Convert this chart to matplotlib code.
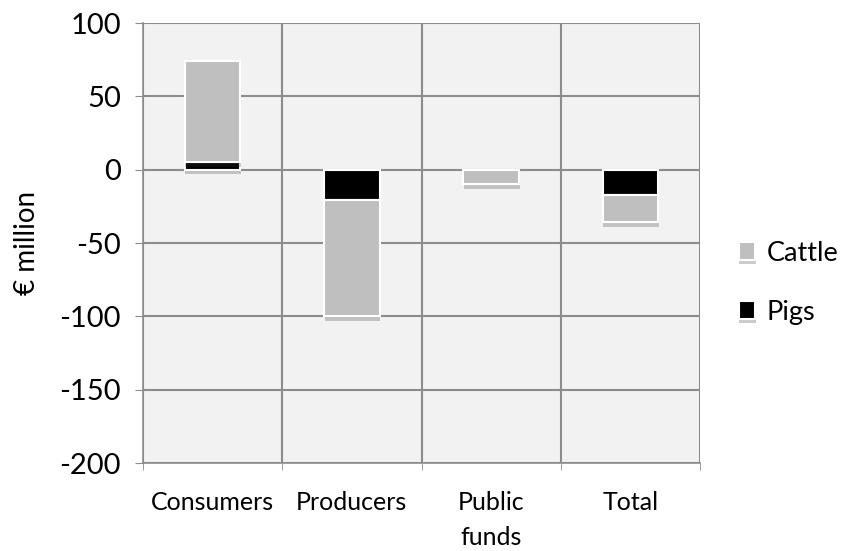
import numpy as np
import matplotlib
matplotlib.use("Agg")
import matplotlib.pyplot as plt
import matplotlib.patheffects as pe

# values (EUR million)
categories = ["Consumers", "Producers", "Public\nfunds", "Total"]
pigs = [5, -21, 0, -17.5]
cattle = [69, -79, -10, -18.5]

plt.rcParams["font.family"] = ["Lato", "DejaVu Sans"]
plt.rcParams["axes.unicode_minus"] = False

fig = plt.figure(figsize=(8.56, 5.51), dpi=100)
ax = fig.add_axes([143 / 856, 1 - 463 / 551, 557 / 856, 440 / 551])
ax.set_facecolor("#f2f2f2")

x = np.arange(len(categories))
shadow = [pe.SimplePatchShadow(offset=(0.5, -3), alpha=0.25, shadow_rgbFace="#333333"), pe.Normal()]
b_pigs = ax.bar(x, pigs, width=0.4, color="#000000", edgecolor="white", linewidth=1.5,
                label="Pigs", zorder=3)
b_cattle = ax.bar(x, cattle, width=0.4, bottom=pigs, color="#bfbfbf", edgecolor="white",
                  linewidth=1.5, label="Cattle", zorder=3)
for p in list(b_pigs) + list(b_cattle):
    p.set_path_effects(shadow)

ax.set_xlim(-0.5, len(categories) - 0.5)
ax.set_ylim(-200, 100)
ax.set_yticks(np.arange(-200, 101, 50))
ax.set_xticks(x)
ax.set_xticklabels(categories, fontsize=18, linespacing=1.65)
ax.set_xticks(np.arange(len(categories) + 1) - 0.5, minor=True)
ax.tick_params(axis="x", which="major", length=0, pad=20)
ax.tick_params(axis="x", which="minor", length=5, color="#8c8c8c", direction="out")
ax.tick_params(axis="y", labelsize=21, length=6, color="#8c8c8c", direction="out", pad=10)
ax.grid(True, axis="y", color="#8c8c8c", lw=1.5, zorder=1)
ax.grid(True, axis="x", which="minor", color="#8c8c8c", lw=1.5, zorder=1)
for s in ["top", "right"]:
    ax.spines[s].set_visible(False)
for s in ["left", "bottom"]:
    ax.spines[s].set_color("#8c8c8c")
    ax.spines[s].set_linewidth(1.2)
ax.set_axisbelow(True)
ax.set_ylabel("€ million", fontsize=20, labelpad=14)

h, l = ax.get_legend_handles_labels()
ax.legend(h[::-1], l[::-1], loc="center left", bbox_to_anchor=(1.05, 0.41), frameon=False,
          fontsize=19.5, handlelength=0.62, handleheight=0.62, handletextpad=0.4,
          labelspacing=1.25, borderaxespad=0)

fig.savefig("out.png", dpi=100)
